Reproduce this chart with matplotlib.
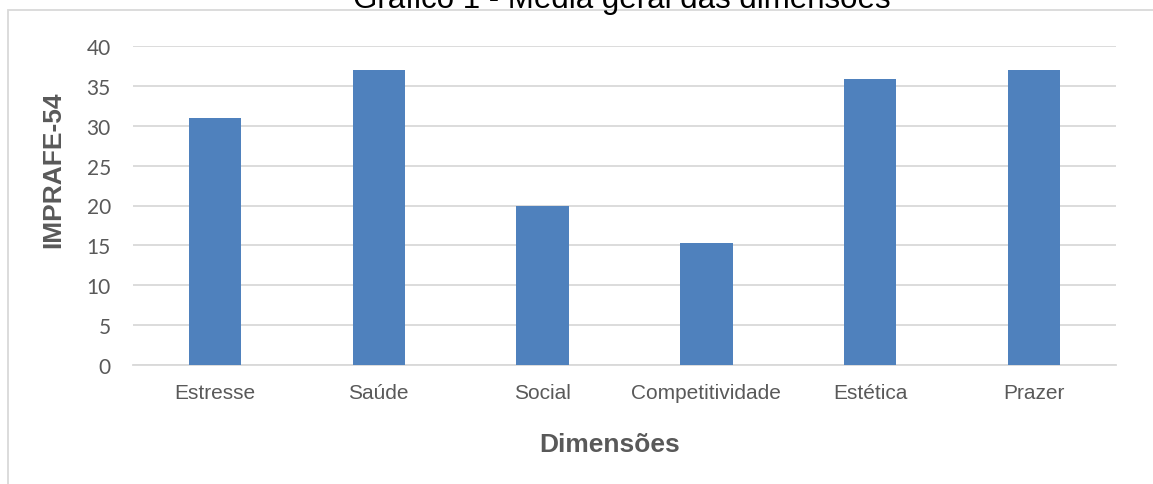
import numpy as np
import matplotlib.pyplot as plt
from matplotlib.patches import Rectangle

plt.rcParams['font.family'] = ['Liberation Sans', 'DejaVu Sans']

# Médias por dimensão
dimensoes = ["Estresse", "Saúde", "Social", "Competitividade", "Estética", "Prazer"]
medias = [31.0, 37.0, 20.0, 15.3, 35.8, 37.0]
yticks = [0, 5, 10, 15, 20, 25, 30, 35, 40]

W, H = 1153, 485
fig = plt.figure(figsize=(W / 100, H / 100), dpi=100)
ax = fig.add_axes([133 / W, 1 - 366 / H, (1116 - 133) / W, (366 - 47) / H])

x = np.arange(len(dimensoes))
ax.bar(x, medias, width=0.32, color="#4F81BD", zorder=3)

ax.set_xlim(-0.5, len(dimensoes) - 0.5)
ax.set_ylim(0, 40)
ax.set_yticks(yticks)
ax.set_xticks(x)
ax.set_xticklabels(dimensoes)
ax.grid(axis="y", color="#D9D9D9", linewidth=1.3, zorder=0)
for s in ["top", "right", "left"]:
    ax.spines[s].set_visible(False)
ax.spines["bottom"].set_color("#D9D9D9")
ax.spines["bottom"].set_linewidth(1.3)
ax.tick_params(axis="both", length=0, colors="#595959")
ax.tick_params(axis="x", pad=13, labelsize=15)
ax.tick_params(axis="y", pad=16, labelsize=15)
for lbl in ax.get_yticklabels():
    lbl.set_fontfamily(["Lato", "DejaVu Sans"])

# títulos dos eixos
fig.text(53 / W, 1 - 170 / H, "IMPRAFE-54", rotation=90, ha="center", va="center",
         fontsize=19, fontweight="bold", color="#595959")
fig.text(610 / W, 1 - 445 / H, "Dimensões", ha="center", va="center",
         fontsize=19, fontweight="bold", color="#595959")

# moldura da área do gráfico
fig.patches.append(Rectangle((8 / W, -0.1), 1.2, 1 - 11 / H + 0.1, transform=fig.transFigure,
                             fill=False, edgecolor="#D9D9D9", linewidth=1.3))

fig.text(622 / W, 1 - 8 / H, "Gráfico 1 - Média geral das dimensões", ha="center",
         va="baseline", fontsize=22.5, color="black")

fig.savefig("out.png", dpi=100)
